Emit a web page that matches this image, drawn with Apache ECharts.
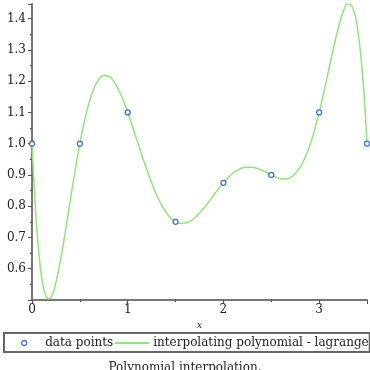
<!DOCTYPE html>
<html><head><meta charset="utf-8">
<script src="https://cdn.jsdelivr.net/npm/echarts@6/dist/echarts.min.js"></script>
<style>html,body{margin:0;padding:0;background:#fff}#c{width:370px;height:370px}</style>
</head><body><div id="c"></div>
<script>
// Data points (nodes)
const pointX = [0, 0.5, 1, 1.5, 2, 2.5, 3, 3.5];
const pointY = [1.0, 1.0, 1.1, 0.75, 0.875, 0.9, 1.1, 1.0];
// Interpolating polynomial, values
const curveX = [0, 0.025, 0.05, 0.075, 0.1, 0.125, 0.15, 0.175, 0.2, 0.225, 0.25, 0.3, 0.35, 0.4, 0.45,
  0.5, 0.55, 0.6, 0.65, 0.7, 0.75, 0.8, 0.85, 0.9, 0.95,
  1.0, 1.05, 1.1, 1.15, 1.2, 1.25, 1.3, 1.35, 1.4, 1.45,
  1.5, 1.55, 1.6, 1.65, 1.7, 1.75, 1.8, 1.85, 1.9, 1.95,
  2.0, 2.05, 2.1, 2.15, 2.2, 2.25, 2.3, 2.35, 2.4, 2.45,
  2.5, 2.55, 2.6, 2.65, 2.7, 2.75, 2.8, 2.85, 2.9, 2.95,
  3.0, 3.05, 3.1, 3.15, 3.2, 3.25, 3.3, 3.35, 3.4, 3.45, 3.475, 3.5];
const curveY = [1.0, 0.848, 0.728, 0.639, 0.574, 0.532, 0.509, 0.503, 0.510, 0.528, 0.556, 0.631, 0.722, 0.819, 0.913,
  1.0, 1.075, 1.135, 1.179, 1.206, 1.218, 1.216, 1.201, 1.175, 1.141,
  1.1, 1.055, 1.008, 0.961, 0.916, 0.875, 0.837, 0.806, 0.781, 0.762,
  0.75, 0.745, 0.746, 0.752, 0.763, 0.778, 0.796, 0.815, 0.836, 0.856,
  0.875, 0.891, 0.906, 0.915, 0.923, 0.925, 0.925, 0.921, 0.916, 0.908,
  0.9, 0.893, 0.888, 0.887, 0.892, 0.905, 0.924, 0.954, 0.992, 1.042,
  1.1, 1.166, 1.236, 1.306, 1.370, 1.421, 1.447, 1.435, 1.371, 1.233, 1.130, 1.0];
const xTicks = [0, 1, 2, 3];
const yTicks = [0.6, 0.7, 0.8, 0.9, 1.0, 1.1, 1.2, 1.3, 1.4];
const seriesNames = ['data points', 'interpolating polynomial - lagrange'];
const titleText = 'Polynomial interpolation.';
const xName = 'x';

const ser = 'DejaVu Serif';
const green = '#8ee873';
const blue = '#1a4fcc';
const chart = echarts.init(document.getElementById('c'), null, {renderer: 'canvas'});
chart.setOption({
  animation: false,
  title: {text: titleText, left: 'center', top: 357, textStyle: {fontFamily: ser, fontSize: 12, fontWeight: 'normal', color: '#222'}},
  legend: {
    left: 4, top: 333, width: 364,
    borderColor: '#666', borderWidth: 2, padding: [4, 1, 3, 17],
    itemGap: 2, itemWidth: 34, itemHeight: 5, symbolKeepAspect: true,
    textStyle: {fontFamily: ser, fontSize: 12, color: '#222', padding: [0, 0, 0, -1]},
    data: [
      {name: seriesNames[0], icon: 'circle', itemStyle: {color: '#fff', borderColor: blue, borderWidth: 1.3}},
      {name: seriesNames[1], icon: 'path://M0,0H34V2H0Z', itemStyle: {color: green, borderWidth: 0}}
    ]
  },
  grid: {left: 32, right: 2, top: 4, bottom: 70, containLabel: false},
  xAxis: {
    type: 'value', min: 0, max: 3.5, interval: 1,
    name: xName, nameLocation: 'middle', nameGap: 21,
    nameTextStyle: {fontFamily: ser, fontSize: 9, fontStyle: 'italic', color: '#222'},
    axisLine: {lineStyle: {color: '#777', width: 2}},
    axisTick: {show: true, length: 4, lineStyle: {color: '#555'}},
    minorTick: {show: true, splitNumber: 2, length: 2, lineStyle: {color: '#555'}},
    splitLine: {show: false},
    axisLabel: {fontFamily: ser, fontSize: 12, color: '#222', margin: 4,
      formatter: v => xTicks.some(t => Math.abs(t - v) < 1e-6) ? String(v) : ''}
  },
  yAxis: {
    type: 'value', min: 0.5, max: 1.447, interval: 0.1,
    axisLine: {show: true, lineStyle: {color: '#777', width: 2}},
    axisTick: {show: true, length: 4, lineStyle: {color: '#555'}},
    minorTick: {show: true, splitNumber: 2, length: 2, lineStyle: {color: '#555'}},
    splitLine: {show: false},
    axisLabel: {fontFamily: ser, fontSize: 12, color: '#222', margin: 6,
      formatter: v => yTicks.some(t => Math.abs(t - v) < 1e-6) ? v.toFixed(1) : ''}
  },
  series: [
    {name: seriesNames[1], type: 'line', data: curveX.map((x, i) => [x, curveY[i]]),
      symbol: 'none', showSymbol: false, smooth: 0.5, lineStyle: {color: green, width: 1.5}, itemStyle: {color: green}, z: 2},
    {name: seriesNames[0], type: 'scatter', data: pointX.map((x, i) => [x, pointY[i]]),
      symbol: 'circle', symbolSize: 5, itemStyle: {color: '#fff', borderColor: blue, borderWidth: 1.3}, z: 5}
  ]
});
</script></body></html>
